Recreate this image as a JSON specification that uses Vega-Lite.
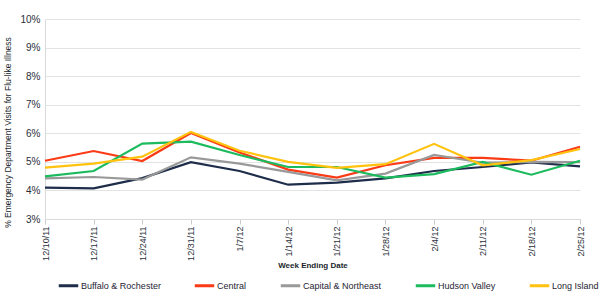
{
  "$schema": "https://vega.github.io/schema/vega-lite/v6.json",
  "width": 535,
  "height": 200,
  "autosize": {"type": "none"},
  "padding": {"left": 45, "top": 19, "right": 20, "bottom": 81},
  "background": "white",
  "config": {
    "font": "Liberation Sans",
    "view": {"stroke": null},
    "axis": {"labelColor": "#2b2f3a", "titleColor": "#1a1f2b"}
  },
  "data": {
    "values": [
      {"week": "12/10/11", "region": "Buffalo & Rochester", "pct": 4.1},
      {"week": "12/17/11", "region": "Buffalo & Rochester", "pct": 4.07},
      {"week": "12/24/11", "region": "Buffalo & Rochester", "pct": 4.43},
      {"week": "12/31/11", "region": "Buffalo & Rochester", "pct": 4.99},
      {"week": "1/7/12", "region": "Buffalo & Rochester", "pct": 4.68},
      {"week": "1/14/12", "region": "Buffalo & Rochester", "pct": 4.2},
      {"week": "1/21/12", "region": "Buffalo & Rochester", "pct": 4.27},
      {"week": "1/28/12", "region": "Buffalo & Rochester", "pct": 4.42},
      {"week": "2/4/12", "region": "Buffalo & Rochester", "pct": 4.68},
      {"week": "2/11/12", "region": "Buffalo & Rochester", "pct": 4.82},
      {"week": "2/18/12", "region": "Buffalo & Rochester", "pct": 4.98},
      {"week": "2/25/12", "region": "Buffalo & Rochester", "pct": 4.84},

      {"week": "12/10/11", "region": "Central", "pct": 5.04},
      {"week": "12/17/11", "region": "Central", "pct": 5.38},
      {"week": "12/24/11", "region": "Central", "pct": 5.03},
      {"week": "12/31/11", "region": "Central", "pct": 6.01},
      {"week": "1/7/12", "region": "Central", "pct": 5.33},
      {"week": "1/14/12", "region": "Central", "pct": 4.73},
      {"week": "1/21/12", "region": "Central", "pct": 4.45},
      {"week": "1/28/12", "region": "Central", "pct": 4.88},
      {"week": "2/4/12", "region": "Central", "pct": 5.14},
      {"week": "2/11/12", "region": "Central", "pct": 5.14},
      {"week": "2/18/12", "region": "Central", "pct": 5.04},
      {"week": "2/25/12", "region": "Central", "pct": 5.53},

      {"week": "12/10/11", "region": "Capital & Northeast", "pct": 4.42},
      {"week": "12/17/11", "region": "Capital & Northeast", "pct": 4.47},
      {"week": "12/24/11", "region": "Capital & Northeast", "pct": 4.38},
      {"week": "12/31/11", "region": "Capital & Northeast", "pct": 5.16},
      {"week": "1/7/12", "region": "Capital & Northeast", "pct": 4.94},
      {"week": "1/14/12", "region": "Capital & Northeast", "pct": 4.65},
      {"week": "1/21/12", "region": "Capital & Northeast", "pct": 4.35},
      {"week": "1/28/12", "region": "Capital & Northeast", "pct": 4.59},
      {"week": "2/4/12", "region": "Capital & Northeast", "pct": 5.24},
      {"week": "2/11/12", "region": "Capital & Northeast", "pct": 4.97},
      {"week": "2/18/12", "region": "Capital & Northeast", "pct": 5.0},
      {"week": "2/25/12", "region": "Capital & Northeast", "pct": 4.99},

      {"week": "12/10/11", "region": "Hudson Valley", "pct": 4.49},
      {"week": "12/17/11", "region": "Hudson Valley", "pct": 4.68},
      {"week": "12/24/11", "region": "Hudson Valley", "pct": 5.64},
      {"week": "12/31/11", "region": "Hudson Valley", "pct": 5.71},
      {"week": "1/7/12", "region": "Hudson Valley", "pct": 5.24},
      {"week": "1/14/12", "region": "Hudson Valley", "pct": 4.82},
      {"week": "1/21/12", "region": "Hudson Valley", "pct": 4.82},
      {"week": "1/28/12", "region": "Hudson Valley", "pct": 4.45},
      {"week": "2/4/12", "region": "Hudson Valley", "pct": 4.57},
      {"week": "2/11/12", "region": "Hudson Valley", "pct": 5.0},
      {"week": "2/18/12", "region": "Hudson Valley", "pct": 4.55},
      {"week": "2/25/12", "region": "Hudson Valley", "pct": 5.04},

      {"week": "12/10/11", "region": "Long Island", "pct": 4.8},
      {"week": "12/17/11", "region": "Long Island", "pct": 4.94},
      {"week": "12/24/11", "region": "Long Island", "pct": 5.18},
      {"week": "12/31/11", "region": "Long Island", "pct": 6.05},
      {"week": "1/7/12", "region": "Long Island", "pct": 5.39},
      {"week": "1/14/12", "region": "Long Island", "pct": 5.0},
      {"week": "1/21/12", "region": "Long Island", "pct": 4.79},
      {"week": "1/28/12", "region": "Long Island", "pct": 4.92},
      {"week": "2/4/12", "region": "Long Island", "pct": 5.63},
      {"week": "2/11/12", "region": "Long Island", "pct": 4.88},
      {"week": "2/18/12", "region": "Long Island", "pct": 5.06},
      {"week": "2/25/12", "region": "Long Island", "pct": 5.45}
    ]
  },
  "mark": {"type": "line", "strokeWidth": 2.2},
  "encoding": {
    "x": {
      "field": "week",
      "type": "ordinal",
      "sort": null,
      "scale": {"type": "point", "padding": 0},
      "axis": {
        "title": "Week Ending Date",
        "titleFontSize": 8,
        "titleFontWeight": "bold",
        "titleY": 42,
        "labelAngle": -90,
        "labelFontSize": 9,
        "labelPadding": 2,
        "tickColor": "#cccccc",
        "tickSize": 5,
        "domainColor": "#d9d9d9",
        "grid": false
      }
    },
    "y": {
      "field": "pct",
      "type": "quantitative",
      "scale": {"domain": [3, 10]},
      "axis": {
        "title": "% Emergency  Department Visits for Flu-like Illness",
        "titleFontSize": 8.5,
        "titleFontWeight": "normal",
        "titleY": 113,
        "titleX": -33,
        "values": [3, 4, 5, 6, 7, 8, 9, 10],
        "labelExpr": "datum.value + '%'",
        "labelFontSize": 10,
        "labelPadding": 5,
        "ticks": false,
        "domainColor": "#d9d9d9",
        "gridColor": "#e3e3e3",
        "gridWidth": 1
      }
    },
    "color": {
      "field": "region",
      "type": "nominal",
      "sort": ["Buffalo & Rochester", "Central", "Capital & Northeast", "Hudson Valley", "Long Island"],
      "scale": {
        "domain": ["Buffalo & Rochester", "Central", "Capital & Northeast", "Hudson Valley", "Long Island"],
        "range": ["#1e2d4a", "#fb3a16", "#999999", "#1cbb5e", "#ffc20e"]
      },
      "legend": {
        "title": null,
        "orient": "none",
        "direction": "horizontal",
        "legendX": 12,
        "legendY": 255,
        "symbolType": "stroke",
        "symbolSize": 380,
        "symbolStrokeWidth": 3,
        "labelFontSize": 9,
        "labelColor": "#1e2433",
        "labelOffset": 1,
        "columnPadding": 27
      }
    }
  }
}
